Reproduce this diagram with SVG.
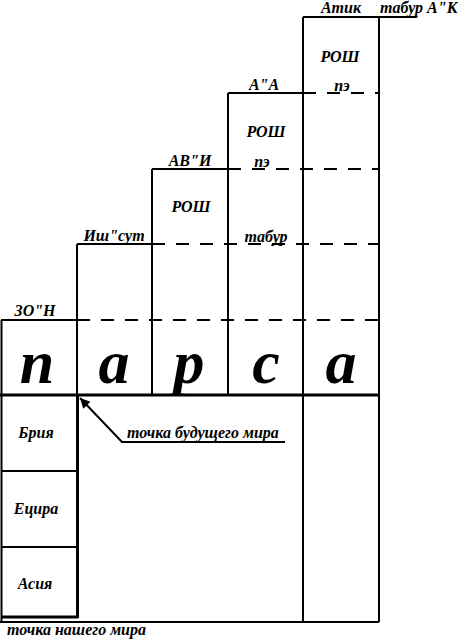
<svg xmlns="http://www.w3.org/2000/svg" width="458" height="641" viewBox="0 0 458 641">
<style>
.ln{stroke:#000;stroke-width:2;fill:none}
.th{stroke:#000;stroke-width:3;fill:none}
.ds{stroke:#000;stroke-width:2;fill:none;stroke-dasharray:13 11}
.t{font-family:"Liberation Serif","Times New Roman",serif;font-weight:bold;font-style:italic;font-size:16px;fill:#000}
.m{text-anchor:middle}
.big{font-family:"Liberation Serif","Times New Roman",serif;font-weight:bold;font-style:italic;font-size:62px;fill:#000;text-anchor:middle}
</style>
<defs>
<marker id="ah" viewBox="0 0 10 10" refX="10" refY="5" markerWidth="7" markerHeight="5" orient="auto" markerUnits="strokeWidth">
<path d="M0,0 L10,5 L0,10 z" fill="#000"/>
</marker>
</defs>
<rect width="458" height="641" fill="#fff"/>
<g id="grid">
<path class="ln" d="M1.5,320 V622 M77,244 V395 M152,169 V395 M228,93 V395 M303,17 V622 M379,17 V622"/>
<path class="ln" d="M1,320 H77 M77,244 H152 M152,169 H228 M228,93 H303 M303,17 H417"/>
<path class="ds" d="M77,320 H379 M152,244 H379 M228,169 H379 M303,93 H379"/>
<path class="th" d="M0,395 H379"/>
<path class="ln" d="M0,622 H379"/>
</g>
<g id="lower-worlds">
<path class="th" d="M77.5,395 V618 M1,617 H78"/>
<path class="ln" d="M1,471 H77 M1,547 H77"/>
<text class="t m" x="36" y="438">Брия</text>
<text class="t m" x="36" y="514">Ецира</text>
<text class="t m" x="35" y="589">Асия</text>
</g>
<g id="letters">
<text class="big" x="37" y="383">п</text>
<text class="big" x="114" y="383">а</text>
<text class="big" x="189" y="383">р</text>
<text class="big" x="266" y="383">с</text>
<text class="big" x="341" y="383">а</text>
</g>
<g id="labels">
<text class="t m" x="35" y="316">ЗО"Н</text>
<text class="t m" x="114" y="241">Иш"сут</text>
<text class="t m" x="190" y="166">АВ"И</text>
<text class="t m" x="264" y="90">А"А</text>
<text class="t m" x="341" y="13">Атик</text>
<text class="t" x="380" y="13">табур А"К</text>
<text class="t m" x="340" y="62">РОШ</text>
<text class="t m" x="342" y="91">пэ</text>
<text class="t m" x="266" y="137">РОШ</text>
<text class="t m" x="262" y="167">пэ</text>
<text class="t m" x="191" y="212">РОШ</text>
<text class="t m" x="266" y="242">табур</text>
<text class="t" x="127" y="438">точка  будущего мира</text>
<text class="t" x="7" y="635">точка нашего мира</text>
</g>
<g id="connectors">
<path class="ln" d="M285,442 H122 L80,398" marker-end="url(#ah)"/>
</g>
</svg>
